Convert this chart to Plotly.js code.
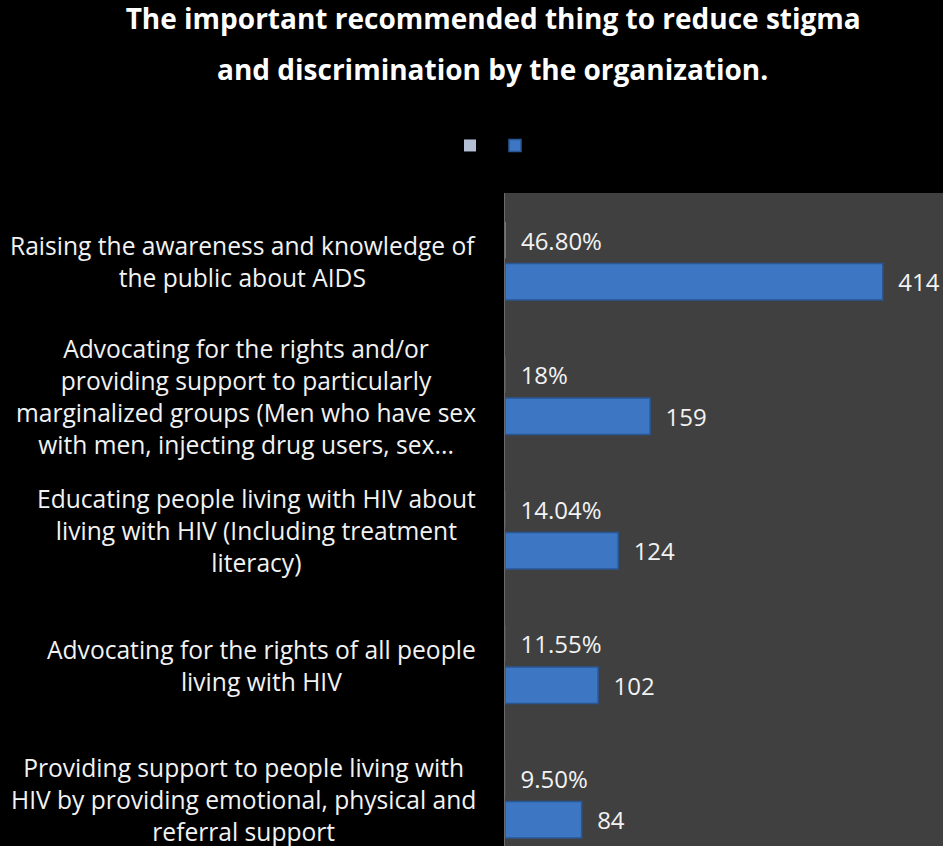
<!DOCTYPE html>
<html>
<head>
<meta charset="utf-8">
<script src="https://cdn.plot.ly/plotly-3.0.1.min.js"></script>
<style>html,body{margin:0;padding:0;background:#000;}</style>
</head>
<body>
<div id="chart" style="width:943px;height:846px;"></div>
<script>
// Categories, top to bottom
const categories = [
  "Raising the awareness and knowledge of<br>the public about AIDS",
  "Advocating for the rights and/or<br>providing support to particularly<br>marginalized groups (Men who have sex<br>with men, injecting drug users, sex...",
  "Educating people living with HIV about<br>living with HIV (Including treatment<br>literacy)",
  "Advocating for the rights of all people<br>living with HIV",
  "Providing support to people living with<br>HIV by providing emotional, physical and<br>referral support"
];
const counts = [414, 159, 124, 102, 84];
const shares = [0.468, 0.18, 0.1404, 0.1155, 0.095];
const shareLabels = ["46.80%", "18%", "14.04%", "11.55%", "9.50%"];
const titleLine1 = "The important recommended thing to reduce stigma";
const titleLine2 = "and discrimination by the organization.";

const textFont = {family: "Open Sans", size: 24, color: "#f2f2f2"};
const labelFont = {family: "Open Sans", size: 24.6, color: "#f2f2f2"};
const titleFont = {family: "Open Sans", size: 28, color: "#ffffff"};

const traces = [
  {
    type: "bar", orientation: "h", name: "",
    x: shares, y: categories,
    width: 0.27, offset: -0.445,
    marker: {color: "#b4bfd6", line: {width: 0}},
    text: shareLabels, texttemplate: "\u00a0\u00a0%{text}",
    textposition: "outside", constraintext: "none", cliponaxis: false,
    textfont: textFont, hoverinfo: "skip"
  },
  {
    type: "bar", orientation: "h", name: "",
    x: counts, y: categories,
    width: 0.27, offset: -0.135,
    marker: {color: "#3d77c3", line: {color: "#2a5794", width: 1.5}},
    text: counts.map(String), texttemplate: "\u00a0\u00a0%{text}",
    textposition: "outside", constraintext: "none", cliponaxis: false,
    textfont: textFont, hoverinfo: "skip"
  }
];

const annotations = categories.map(c => ({
  xref: "paper", yref: "y", x: -0.062, y: c, yshift: 20,
  xanchor: "right", yanchor: "middle", align: "center",
  text: c, showarrow: false, font: labelFont
}));
annotations.push({
  xref: "paper", yref: "paper", x: -0.0274, y: 1.1899,
  xanchor: "center", yanchor: "middle",
  text: "<b>" + titleLine2 + "</b>", showarrow: false, font: titleFont
});

const layout = {
  width: 943, height: 846,
  paper_bgcolor: "#000000", plot_bgcolor: "#404040",
  margin: {l: 505, r: 0, t: 193, b: 0, pad: 0},
  barmode: "overlay",
  title: {
    text: "<b>" + titleLine1 + "</b>",
    font: titleFont,
    xref: "container", x: 0.523, xanchor: "center",
    yref: "container", y: 0.9894, yanchor: "top"
  },
  xaxis: {range: [0, 480], showgrid: false, zeroline: false, showticklabels: false, ticks: ""},
  yaxis: {type: "category", categoryorder: "array", categoryarray: categories,
          range: [4.195, -0.66], showgrid: false, zeroline: false,
          showticklabels: false, ticks: "", showline: true, linecolor: "#6a6a6a", linewidth: 1},
  showlegend: true,
  legend: {orientation: "h", x: -0.1256, xanchor: "left", y: 1.095, yanchor: "top",
           font: {size: 12, color: "#ffffff"}, bgcolor: "rgba(0,0,0,0)", traceorder: "normal"},
  annotations: annotations
};

Plotly.newPlot("chart", traces, layout, {displayModeBar: false, staticPlot: true});
</script>
</body>
</html>
